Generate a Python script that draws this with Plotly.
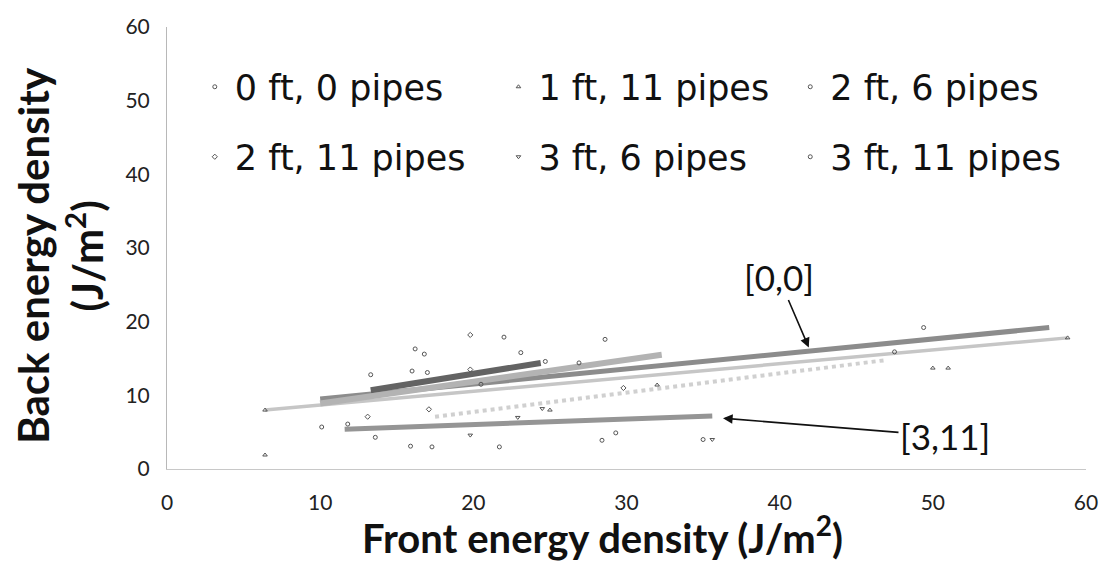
import plotly.graph_objects as go

# ---- data ----
series_names = ["0 ft, 0 pipes", "1 ft, 11 pipes", "2 ft, 6 pipes",
                "2 ft, 11 pipes", "3 ft, 6 pipes", "3 ft, 11 pipes"]

s0_x = [10.1, 20.5, 26.9, 28.6, 47.5, 49.4]
s0_y = [5.7, 11.5, 14.4, 17.6, 15.9, 19.2]
s1_x = [6.4, 6.4, 25.0, 32.0, 50.0, 51.0, 58.8]
s1_y = [1.9, 8.0, 8.0, 11.4, 13.7, 13.7, 17.8]
s2_x = [13.3, 16.0, 16.2, 16.8, 17.0, 22.0, 23.1, 24.7]
s2_y = [12.8, 13.3, 16.3, 15.6, 13.1, 17.9, 15.8, 14.6]
s3_x = [13.1, 17.1, 19.8, 19.8, 29.8]
s3_y = [7.1, 8.1, 13.5, 18.2, 11.0]
s4_x = [19.8, 22.9, 24.5, 35.6]
s4_y = [4.6, 7.0, 8.2, 4.0]
s5_x = [11.8, 13.6, 15.9, 17.3, 21.7, 28.4, 29.3, 35.0]
s5_y = [6.1, 4.3, 3.1, 3.0, 3.0, 3.9, 4.9, 4.0]

# linear trendlines (start/end)
trend_x0 = [10.0, 6.4, 13.3, 10.0, 17.5, 11.6]
trend_y0 = [9.5, 8.0, 10.7, 8.9, 7.1, 5.4]
trend_x1 = [57.6, 58.8, 24.4, 32.3, 47.0, 35.6]
trend_y1 = [19.2, 17.8, 14.4, 15.5, 14.8, 7.2]

x_ticks = [0, 10, 20, 30, 40, 50, 60]
y_ticks = [0, 10, 20, 30, 40, 50, 60]

# ---- styling ----
W, H = 1110, 561
ML, MR, MT, MB = 167, 17, 27, 92
PW, PH = W - ML - MR, H - MT - MB

def px_to_paper_x(px):
    return (px - ML) / PW

def px_to_paper_y(py):
    return (H - MB - py) / PH

line_colors = ["#8c8c8c", "#c6c6c6", "#636363", "#b3b3b3", "#d0d0d0", "#959595"]
line_widths = [5, 3.5, 6, 6, 4, 5]
line_dash = ["solid", "solid", "solid", "solid", "dot", "solid"]
marker_symbols = ["circle-open", "triangle-up-open", "circle-open",
                  "diamond-open", "triangle-down-open", "circle-open"]

xs = [s0_x, s1_x, s2_x, s3_x, s4_x, s5_x]
ys = [s0_y, s1_y, s2_y, s3_y, s4_y, s5_y]

fig = go.Figure()
for i in range(6):
    fig.add_trace(go.Scatter(
        x=[trend_x0[i], trend_x1[i]], y=[trend_y0[i], trend_y1[i]],
        mode="lines", line=dict(color=line_colors[i], width=line_widths[i], dash=line_dash[i]),
        showlegend=False, hoverinfo="skip"))

legend_names = ["legend", "legend2", "legend3", "legend4", "legend5", "legend6"]
for i in range(6):
    fig.add_trace(go.Scatter(
        x=xs[i], y=ys[i], mode="markers", name=series_names[i],
        marker=dict(symbol=marker_symbols[i], size=4, color="#555555",
                    line=dict(width=1, color="#555555")),
        legend=legend_names[i]))

# legend item positions (text start px, row center px)
leg_text_x = [237, 543, 837, 237, 543, 837]
leg_row_y = [87, 87, 87, 157, 157, 157]
legend_font = dict(family="DejaVu Sans, sans-serif", size=35, color="#111111")
layout_legends = {}
for i in range(6):
    layout_legends[legend_names[i]] = dict(
        x=px_to_paper_x(leg_text_x[i] - 42), xanchor="left",
        y=px_to_paper_y(leg_row_y[i]), yanchor="middle",
        bgcolor="rgba(0,0,0,0)", borderwidth=0, font=legend_font,
        orientation="h", itemwidth=30)

fig.update_layout(
    width=W, height=H,
    margin=dict(l=ML, r=MR, t=MT, b=MB),
    paper_bgcolor="white", plot_bgcolor="white",
    font=dict(family="Lato, sans-serif", color="#222222"),
    **layout_legends,
)

fig.update_xaxes(range=[0, 60], tickvals=x_ticks, ticktext=[str(v) for v in x_ticks],
                 showgrid=False, zeroline=False, showline=True, linecolor="#c8c8c8",
                 linewidth=1, ticks="", ticklabelstandoff=15,
                 tickfont=dict(family="Lato, sans-serif", size=21, color="#222222"))
fig.update_yaxes(range=[0, 60], tickvals=y_ticks, ticktext=[str(v) for v in y_ticks],
                 showgrid=False, zeroline=False, showline=True, linecolor="#b8b8b8",
                 linewidth=1, ticks="", ticklabelstandoff=12,
                 tickfont=dict(family="Lato, sans-serif", size=21, color="#222222"))

fig.add_annotation(text="Front energy density (J/m<sup>2</sup>)", xref="paper", yref="paper",
                   x=px_to_paper_x(606), y=px_to_paper_y(535), showarrow=False,
                   font=dict(family="Lato, sans-serif", size=40, color="#111111", weight="bold"),
                   xanchor="center", yanchor="middle")
fig.add_annotation(text="Back energy density<br>(J/m<sup>2</sup>)", xref="paper", yref="paper",
                   x=px_to_paper_x(60), y=px_to_paper_y(255), showarrow=False,
                   textangle=-90,
                   font=dict(family="Lato, sans-serif", size=42, color="#111111", weight="bold"),
                   xanchor="center", yanchor="middle")

ann_font = dict(family="Lato, sans-serif", size=35, color="#111111")
fig.add_annotation(text="[0,0]", x=41.9, y=16.5, xref="x", yref="y",
                   showarrow=True, arrowhead=2, arrowsize=1.2, arrowwidth=1.6,
                   arrowcolor="#111111", ax=-30, ay=-70, font=ann_font)
fig.add_annotation(text="[3,11]", x=36.3, y=6.9, xref="x", yref="y",
                   showarrow=True, arrowhead=2, arrowsize=1.2, arrowwidth=1.6,
                   arrowcolor="#111111", ax=222, ay=18, font=ann_font)

fig.write_html("out.html")
